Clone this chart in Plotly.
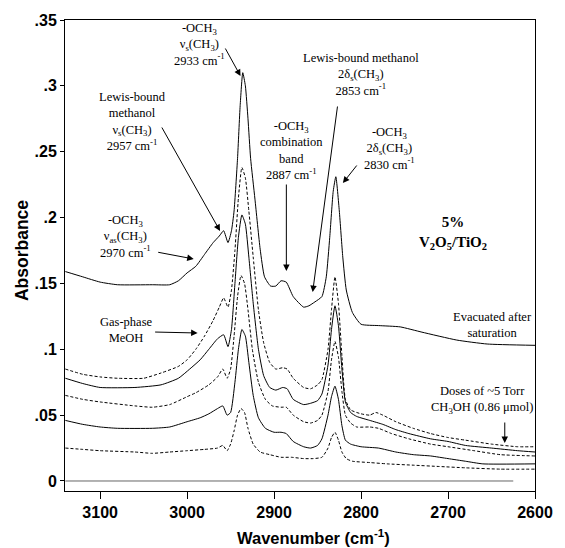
import plotly.graph_objects as go

# ---- data ----
evac_wn = [3140, 3120, 3100, 3080, 3040, 3020, 3010, 3000, 2990, 2980, 2970, 2963, 2958, 2953, 2949, 2946, 2942, 2939, 2936, 2933, 2930, 2927, 2922, 2916, 2911, 2904, 2898, 2892, 2886, 2878, 2866, 2860, 2853, 2845, 2840, 2836, 2832, 2829, 2825, 2821, 2817, 2810, 2800, 2780, 2755, 2730, 2690, 2655, 2600]
evac_abs = [0.159, 0.155, 0.151, 0.149, 0.149, 0.149, 0.152, 0.158, 0.163, 0.172, 0.181, 0.186, 0.190, 0.181, 0.190, 0.205, 0.245, 0.285, 0.310, 0.300, 0.275, 0.245, 0.214, 0.176, 0.155, 0.148, 0.148, 0.152, 0.151, 0.140, 0.132, 0.133, 0.136, 0.140, 0.155, 0.185, 0.220, 0.231, 0.205, 0.170, 0.145, 0.128, 0.119, 0.118, 0.117, 0.113, 0.107, 0.104, 0.103]

d1_wn = [3140, 3120, 3100, 3080, 3050, 3030, 3010, 3000, 2990, 2980, 2970, 2963, 2958, 2953, 2949, 2945, 2941, 2937, 2933, 2929, 2924, 2918, 2912, 2905, 2898, 2890, 2885, 2878, 2866, 2858, 2850, 2845, 2838, 2834, 2830, 2826, 2822, 2818, 2812, 2800, 2790, 2783, 2775, 2760, 2740, 2720, 2700, 2680, 2650, 2620, 2600]
d1_abs = [0.085, 0.081, 0.079, 0.078, 0.078, 0.082, 0.087, 0.092, 0.100, 0.110, 0.122, 0.132, 0.139, 0.132, 0.145, 0.175, 0.215, 0.238, 0.230, 0.205, 0.170, 0.130, 0.105, 0.090, 0.085, 0.086, 0.085, 0.078, 0.071, 0.070, 0.073, 0.077, 0.100, 0.130, 0.155, 0.135, 0.095, 0.062, 0.054, 0.051, 0.050, 0.052, 0.050, 0.045, 0.040, 0.036, 0.033, 0.031, 0.028, 0.026, 0.026]

s1_wn = [3140, 3120, 3100, 3060, 3030, 3010, 2997, 2985, 2975, 2965, 2958, 2953, 2949, 2945, 2941, 2937, 2933, 2929, 2924, 2918, 2912, 2905, 2898, 2890, 2885, 2878, 2866, 2858, 2850, 2845, 2838, 2834, 2830, 2826, 2822, 2818, 2812, 2805, 2790, 2775, 2760, 2745, 2720, 2700, 2680, 2650, 2620, 2600]
s1_abs = [0.078, 0.074, 0.071, 0.071, 0.073, 0.078, 0.085, 0.092, 0.100, 0.108, 0.111, 0.102, 0.115, 0.150, 0.185, 0.202, 0.195, 0.170, 0.135, 0.100, 0.080, 0.071, 0.069, 0.071, 0.070, 0.062, 0.058, 0.059, 0.061, 0.066, 0.088, 0.115, 0.133, 0.118, 0.085, 0.060, 0.052, 0.049, 0.046, 0.043, 0.039, 0.036, 0.032, 0.030, 0.027, 0.025, 0.023, 0.022]

d2_wn = [3140, 3120, 3100, 3060, 3040, 3020, 3000, 2990, 2975, 2965, 2959, 2954, 2950, 2946, 2942, 2938, 2934, 2930, 2925, 2918, 2910, 2902, 2892, 2886, 2878, 2866, 2858, 2850, 2845, 2838, 2834, 2830, 2826, 2822, 2818, 2812, 2805, 2790, 2780, 2765, 2745, 2720, 2700, 2670, 2640, 2600]
d2_abs = [0.065, 0.062, 0.060, 0.057, 0.056, 0.058, 0.064, 0.067, 0.073, 0.079, 0.085, 0.078, 0.085, 0.110, 0.140, 0.156, 0.150, 0.130, 0.100, 0.075, 0.062, 0.057, 0.056, 0.056, 0.050, 0.045, 0.044, 0.046, 0.050, 0.068, 0.092, 0.106, 0.094, 0.068, 0.050, 0.044, 0.041, 0.041, 0.040, 0.036, 0.032, 0.028, 0.026, 0.023, 0.020, 0.019]

s2_wn = [3140, 3120, 3100, 3080, 3040, 3020, 3000, 2985, 2975, 2965, 2959, 2954, 2950, 2945, 2941, 2937, 2933, 2929, 2924, 2918, 2910, 2900, 2892, 2886, 2878, 2866, 2858, 2850, 2845, 2838, 2834, 2830, 2826, 2822, 2818, 2812, 2800, 2780, 2760, 2740, 2720, 2700, 2680, 2660, 2600]
s2_abs = [0.046, 0.043, 0.041, 0.040, 0.040, 0.041, 0.045, 0.048, 0.051, 0.055, 0.057, 0.050, 0.052, 0.075, 0.100, 0.115, 0.110, 0.090, 0.065, 0.048, 0.040, 0.037, 0.037, 0.036, 0.030, 0.026, 0.025, 0.027, 0.032, 0.050, 0.064, 0.072, 0.062, 0.042, 0.031, 0.028, 0.026, 0.025, 0.022, 0.020, 0.019, 0.017, 0.015, 0.013, 0.013]

d3_wn = [3140, 3120, 3100, 3060, 3040, 3020, 3000, 2980, 2965, 2959, 2954, 2950, 2946, 2942, 2938, 2934, 2930, 2924, 2916, 2905, 2892, 2880, 2866, 2855, 2845, 2838, 2834, 2830, 2826, 2822, 2817, 2810, 2790, 2770, 2740, 2710, 2680, 2640, 2600]
d3_abs = [0.025, 0.024, 0.023, 0.022, 0.021, 0.022, 0.023, 0.024, 0.025, 0.027, 0.023, 0.028, 0.038, 0.050, 0.055, 0.052, 0.040, 0.028, 0.022, 0.020, 0.018, 0.018, 0.017, 0.017, 0.018, 0.025, 0.033, 0.037, 0.031, 0.022, 0.017, 0.015, 0.014, 0.013, 0.012, 0.011, 0.010, 0.009, 0.009]

zero_wn = [3140, 2625]
zero_abs = [0.0, 0.0]

y_tickvals = [0, 0.05, 0.1, 0.15, 0.2, 0.25, 0.3, 0.35]
y_ticktext = ["0", ".05", ".1", ".15", ".2", ".25", ".3", ".35"]
x_tickvals = [3100, 3000, 2900, 2800, 2700, 2600]
x_ticktext = ["3100", "3000", "2900", "2800", "2700", "2600"]

# ---- figure ----
fig = go.Figure()
series = [
    (zero_wn, zero_abs, "solid", "#666666"),
    (d3_wn, d3_abs, "3px,2px", "black"),
    (s2_wn, s2_abs, "solid", "black"),
    (d2_wn, d2_abs, "3px,2px", "black"),
    (s1_wn, s1_abs, "solid", "black"),
    (d1_wn, d1_abs, "3px,2px", "black"),
    (evac_wn, evac_abs, "solid", "black"),
]
for xs, ys, dash, col in series:
    fig.add_trace(go.Scatter(x=xs, y=ys, mode="lines",
                             line=dict(color=col, width=1, dash=dash, shape="spline", smoothing=0.5),
                             showlegend=False, hoverinfo="skip"))

L, R, T, B = 65, 547, 20, 491   # plot area in page pixels
W, H = R - L, B - T


def fx(px):
    return (px - L) / W


def fy(py):
    return (B - py) / H


serif = "Liberation Serif, Times New Roman, serif"
sans = "Liberation Sans, Arial, sans-serif"
texts = [
    (203, 45, "-OCH<sub>3</sub><br>ν<sub>s</sub>(CH<sub>3</sub>)<br>2933 cm<sup>-1</sup>"),
    (134, 122, "Lewis-bound<br>methanol<br>ν<sub>s</sub>(CH<sub>3</sub>)<br>2957 cm<sup>-1</sup>"),
    (127, 236, "-OCH<sub>3</sub><br>ν<sub>as</sub>(CH<sub>3</sub>)<br>2970 cm<sup>-1</sup>"),
    (297, 150, "-OCH<sub>3</sub><br>combination<br>band<br>2887 cm<sup>-1</sup>"),
    (369, 75, "Lewis-bound methanol<br>2δ<sub>s</sub>(CH<sub>3</sub>)<br>2853 cm<sup>-1</sup>"),
    (398, 148, "-OCH<sub>3</sub><br>2δ<sub>s</sub>(CH<sub>3</sub>)<br>2830 cm<sup>-1</sup>"),
    (503, 325, "Evacuated after<br>saturation"),
    (493, 400, "Doses of ~5 Torr<br>CH<sub>3</sub>OH (0.86 μmol)"),
    (128, 330, "Gas-phase<br>MeOH"),
]
for px, py, t in texts:
    fig.add_annotation(x=fx(px), y=fy(py), xref="paper", yref="paper", text=t,
                       showarrow=False, xanchor="center", yanchor="middle",
                       font=dict(family=serif, size=12.5, color="black"))
fig.add_annotation(x=fx(463), y=fy(233), xref="paper", yref="paper",
                   text="<b>5%<br>V<sub>2</sub>O<sub>5</sub>/TiO<sub>2</sub></b>",
                   showarrow=False, xanchor="center", yanchor="middle",
                   font=dict(family=serif, size=15, color="black"))

# axis titles
fig.add_annotation(x=fx(320), y=fy(537), xref="paper", yref="paper",
                   text="<b>Wavenumber (cm<sup>-1</sup>)</b>", showarrow=False,
                   xanchor="center", yanchor="middle",
                   font=dict(family=sans, size=16.5, color="black"))
fig.add_annotation(x=fx(21), y=fy(251), xref="paper", yref="paper",
                   text="<b>Absorbance</b>", showarrow=False, textangle=-90,
                   xanchor="center", yanchor="middle",
                   font=dict(family=sans, size=17.5, color="black"))

arrows = [
    ((229, 47), (245, 76)),
    ((165, 126), (224, 231)),
    ((160, 252), (197, 259)),
    ((292, 183), (292, 271)),
    ((344, 105), (319, 292)),
    ((365, 164), (350, 183)),
    ((516, 421), (516, 443)),
    ((157, 332), (201, 333)),
]
for (tx, ty), (hx, hy) in arrows:
    fig.add_annotation(x=fx(hx), y=fy(hy), xref="paper", yref="paper", text="",
                       showarrow=True, ax=tx - hx, ay=ty - hy, axref="pixel", ayref="pixel",
                       arrowhead=2, arrowsize=1.3, arrowwidth=1, arrowcolor="black", standoff=0)

fig.update_layout(
    width=565, height=548,
    margin=dict(l=L, r=565 - R, t=T, b=548 - B),
    paper_bgcolor="white", plot_bgcolor="white",
    xaxis=dict(range=[3140.4, 2600], tickvals=x_tickvals, ticktext=x_ticktext,
               ticks="outside", ticklen=7, tickcolor="black", tickwidth=1,
               showline=True, linecolor="black", linewidth=1, mirror=True,
               showgrid=False, zeroline=False,
               tickfont=dict(family=sans, size=16, color="black", weight="bold")),
    yaxis=dict(range=[-0.0076, 0.35], tickvals=y_tickvals, ticktext=y_ticktext,
               ticks="outside", ticklen=4, tickcolor="black", tickwidth=1,
               showline=True, linecolor="black", linewidth=1, mirror=True,
               showgrid=False, zeroline=False,
               tickfont=dict(family=sans, size=16, color="black", weight="bold")),
)

fig.write_html("out.html", config={"displayModeBar": False},
               post_script="document.body.style.margin='0';document.body.style.padding='0';")
